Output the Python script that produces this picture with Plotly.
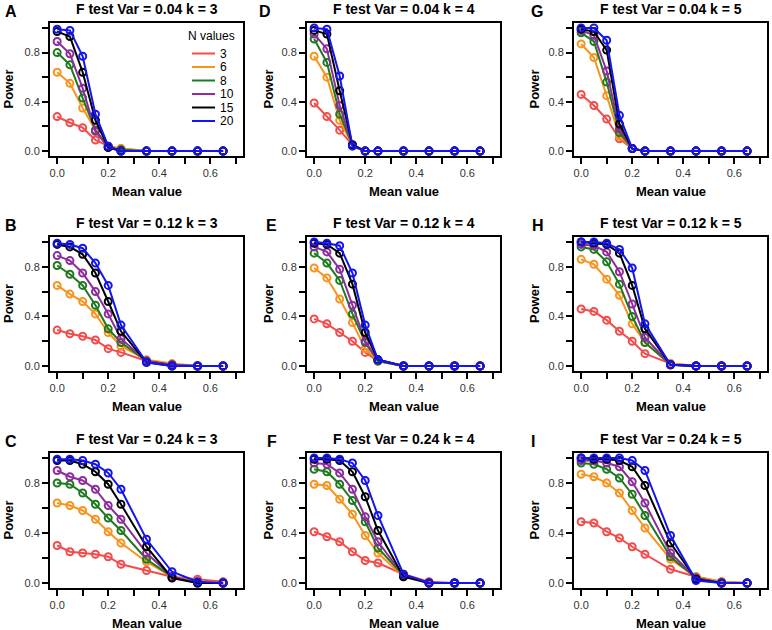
import plotly.graph_objects as go
from plotly.subplots import make_subplots

# x positions (mean value) shared by all panels
mean_values = [0.0, 0.05, 0.1, 0.15, 0.2, 0.25, 0.35, 0.45, 0.55, 0.65]
n_values = ["3", "6", "8", "10", "15", "20"]
n_colors = ["#F24C4C", "#F7941D", "#1F7A1F", "#8E2C9E", "#000000", "#1414F0"]

x_tickvals = [0.0, 0.1, 0.2, 0.3, 0.4, 0.5, 0.6, 0.7]
x_ticktext = ["0.0", "", "0.2", "", "0.4", "", "0.6", ""]
y_tickvals = [0.0, 0.2, 0.4, 0.6, 0.8, 1.0]
y_ticktext = ["0.0", "", "0.4", "", "0.8", ""]

# power per N (3, 6, 8, 10, 15, 20), one list per panel
var004_k3 = [
    [0.28, 0.23, 0.19, 0.09, 0.04, 0.02, 0.0, 0.0, 0.0, 0.0],
    [0.64, 0.55, 0.35, 0.17, 0.04, 0.02, 0.0, 0.0, 0.0, 0.0],
    [0.80, 0.70, 0.43, 0.17, 0.03, 0.01, 0.0, 0.0, 0.0, 0.0],
    [0.89, 0.79, 0.51, 0.16, 0.03, 0.0, 0.0, 0.0, 0.0, 0.0],
    [0.97, 0.93, 0.64, 0.25, 0.03, 0.0, 0.0, 0.0, 0.0, 0.0],
    [0.99, 0.98, 0.77, 0.30, 0.04, 0.0, 0.0, 0.0, 0.0, 0.0],
]
var004_k4 = [
    [0.39, 0.28, 0.17, 0.05, 0.0, 0.0, 0.0, 0.0, 0.0, 0.0],
    [0.77, 0.60, 0.25, 0.05, 0.0, 0.0, 0.0, 0.0, 0.0, 0.0],
    [0.91, 0.72, 0.30, 0.05, 0.0, 0.0, 0.0, 0.0, 0.0, 0.0],
    [0.95, 0.83, 0.37, 0.05, 0.0, 0.0, 0.0, 0.0, 0.0, 0.0],
    [0.98, 0.95, 0.49, 0.05, 0.0, 0.0, 0.0, 0.0, 0.0, 0.0],
    [1.0, 0.99, 0.61, 0.04, 0.0, 0.0, 0.0, 0.0, 0.0, 0.0],
]
var004_k5 = [
    [0.46, 0.37, 0.26, 0.10, 0.02, 0.0, 0.0, 0.0, 0.0, 0.0],
    [0.87, 0.76, 0.45, 0.12, 0.02, 0.0, 0.0, 0.0, 0.0, 0.0],
    [0.96, 0.89, 0.56, 0.15, 0.02, 0.0, 0.0, 0.0, 0.0, 0.0],
    [0.98, 0.94, 0.65, 0.18, 0.02, 0.0, 0.0, 0.0, 0.0, 0.0],
    [0.99, 0.97, 0.82, 0.22, 0.02, 0.0, 0.0, 0.0, 0.0, 0.0],
    [1.0, 1.0, 0.90, 0.29, 0.02, 0.0, 0.0, 0.0, 0.0, 0.0],
]
var012_k3 = [
    [0.29, 0.26, 0.24, 0.21, 0.14, 0.11, 0.04, 0.01, 0.0, 0.0],
    [0.65, 0.58, 0.52, 0.42, 0.27, 0.16, 0.05, 0.02, 0.0, 0.0],
    [0.81, 0.74, 0.65, 0.49, 0.30, 0.19, 0.04, 0.01, 0.0, 0.0],
    [0.89, 0.85, 0.75, 0.60, 0.42, 0.22, 0.04, 0.01, 0.0, 0.0],
    [0.98, 0.96, 0.90, 0.75, 0.52, 0.28, 0.03, 0.0, 0.0, 0.0],
    [0.99, 0.98, 0.95, 0.83, 0.65, 0.33, 0.03, 0.0, 0.0, 0.0],
]
var012_k4 = [
    [0.38, 0.34, 0.27, 0.20, 0.11, 0.04, 0.0, 0.0, 0.0, 0.0],
    [0.79, 0.71, 0.54, 0.35, 0.14, 0.04, 0.0, 0.0, 0.0, 0.0],
    [0.91, 0.83, 0.69, 0.42, 0.19, 0.04, 0.0, 0.0, 0.0, 0.0],
    [0.96, 0.92, 0.78, 0.49, 0.20, 0.05, 0.0, 0.0, 0.0, 0.0],
    [0.99, 0.98, 0.91, 0.66, 0.27, 0.05, 0.0, 0.0, 0.0, 0.0],
    [1.0, 0.99, 0.97, 0.75, 0.33, 0.05, 0.0, 0.0, 0.0, 0.0],
]
var012_k5 = [
    [0.46, 0.44, 0.37, 0.28, 0.20, 0.10, 0.02, 0.0, 0.0, 0.0],
    [0.86, 0.82, 0.70, 0.57, 0.34, 0.19, 0.02, 0.0, 0.0, 0.0],
    [0.96, 0.94, 0.84, 0.66, 0.40, 0.19, 0.01, 0.0, 0.0, 0.0],
    [0.98, 0.97, 0.92, 0.76, 0.50, 0.23, 0.01, 0.0, 0.0, 0.0],
    [1.0, 0.99, 0.98, 0.91, 0.65, 0.30, 0.01, 0.0, 0.0, 0.0],
    [1.0, 1.0, 0.99, 0.94, 0.79, 0.34, 0.01, 0.0, 0.0, 0.0],
]
var024_k3 = [
    [0.30, 0.25, 0.24, 0.23, 0.21, 0.15, 0.10, 0.05, 0.03, 0.01],
    [0.64, 0.62, 0.58, 0.51, 0.41, 0.32, 0.17, 0.05, 0.01, 0.0],
    [0.80, 0.79, 0.72, 0.63, 0.52, 0.42, 0.19, 0.05, 0.0, 0.0],
    [0.90, 0.85, 0.82, 0.75, 0.62, 0.51, 0.24, 0.05, 0.0, 0.0],
    [0.98, 0.98, 0.95, 0.89, 0.79, 0.63, 0.29, 0.04, 0.0, 0.0],
    [0.99, 0.99, 0.98, 0.95, 0.88, 0.75, 0.35, 0.09, 0.01, 0.0],
]
var024_k4 = [
    [0.41, 0.37, 0.33, 0.25, 0.18, 0.16, 0.07, 0.01, 0.0, 0.0],
    [0.79, 0.78, 0.67, 0.55, 0.38, 0.24, 0.05, 0.0, 0.0, 0.0],
    [0.91, 0.89, 0.79, 0.66, 0.49, 0.28, 0.06, 0.0, 0.0, 0.0],
    [0.96, 0.95, 0.88, 0.75, 0.53, 0.33, 0.06, 0.0, 0.0, 0.0],
    [0.99, 0.99, 0.98, 0.89, 0.69, 0.42, 0.05, 0.0, 0.0, 0.0],
    [1.0, 1.0, 0.99, 0.96, 0.82, 0.54, 0.07, 0.0, 0.0, 0.0],
]
var024_k5 = [
    [0.49, 0.48, 0.41, 0.36, 0.29, 0.23, 0.11, 0.05, 0.01, 0.0],
    [0.87, 0.85, 0.80, 0.72, 0.58, 0.44, 0.19, 0.05, 0.01, 0.0],
    [0.96, 0.95, 0.91, 0.84, 0.71, 0.54, 0.21, 0.04, 0.0, 0.0],
    [0.98, 0.98, 0.96, 0.93, 0.81, 0.64, 0.24, 0.04, 0.0, 0.0],
    [1.0, 0.99, 0.99, 0.98, 0.93, 0.78, 0.32, 0.03, 0.0, 0.0],
    [1.0, 1.0, 1.0, 1.0, 0.98, 0.90, 0.38, 0.02, 0.0, 0.0],
]

panels = [
    (1, 1, "A", "0.04", "3", var004_k3),
    (1, 2, "D", "0.04", "4", var004_k4),
    (1, 3, "G", "0.04", "5", var004_k5),
    (2, 1, "B", "0.12", "3", var012_k3),
    (2, 2, "E", "0.12", "4", var012_k4),
    (2, 3, "H", "0.12", "5", var012_k5),
    (3, 1, "C", "0.24", "3", var024_k3),
    (3, 2, "F", "0.24", "4", var024_k4),
    (3, 3, "I", "0.24", "5", var024_k5),
]

W, H = 772, 630
FONT = "Liberation Sans, Arial, sans-serif"

# plot box pixel extents
col_px = [(50, 243), (307, 500), (574, 767)]
row_px = [(23, 156), (237, 371), (453, 588)]
letter_x = [[3, 257, 529], [3, 264, 530], [3, 265, 529]]
ylabel_x = [8, 268, 534]


def px(x):
    return x / W


def py(y):
    return 1 - y / H


fig = make_subplots(rows=3, cols=3)

for row, col, letter, var, k, series in panels:
    for n, color, power in zip(n_values, n_colors, series):
        fig.add_trace(go.Scatter(
            x=mean_values, y=power, mode="lines+markers",
            line=dict(color=color, width=2),
            marker=dict(symbol="circle-open", size=7, color=color, line=dict(width=2)),
            showlegend=False, name=n,
        ), row=row, col=col)

    x0, x1 = col_px[col - 1]
    y0, y1 = row_px[row - 1]
    fig.update_xaxes(domain=[px(x0), px(x1)], range=[-0.028, 0.728],
                     tickvals=x_tickvals, ticktext=x_ticktext,
                     row=row, col=col)
    fig.update_yaxes(domain=[py(y1), py(y0)], range=[-0.04, 1.04],
                     tickvals=y_tickvals, ticktext=y_ticktext,
                     row=row, col=col)

    cx = (x0 + x1) / 2
    fig.add_annotation(text="<b>F test Var = %s k = %s</b>" % (var, k),
                       x=px(cx), y=py(y0 - 14), xref="paper", yref="paper",
                       showarrow=False, xanchor="center", yanchor="middle",
                       font=dict(size=14, family=FONT, color="black"))
    fig.add_annotation(text="<b>%s</b>" % letter,
                       x=px(letter_x[row - 1][col - 1]), y=py(y0 - 12), xref="paper", yref="paper",
                       showarrow=False, xanchor="left", yanchor="middle",
                       font=dict(size=16, family=FONT, color="black"))
    fig.add_annotation(text="<b>Mean value</b>",
                       x=px(cx), y=py(y1 + 35), xref="paper", yref="paper",
                       showarrow=False, xanchor="center", yanchor="middle",
                       font=dict(size=13, family=FONT, color="black"))
    fig.add_annotation(text="<b>Power</b>", textangle=-90,
                       x=px(ylabel_x[col - 1]), y=py((y0 + y1) / 2), xref="paper", yref="paper",
                       showarrow=False, xanchor="center", yanchor="middle",
                       font=dict(size=13, family=FONT, color="black"))

axis_style = dict(showline=True, mirror=True, linecolor="black", linewidth=2,
                  ticks="outside", ticklen=6, tickwidth=1.5, tickcolor="black",
                  showgrid=False, zeroline=False,
                  tickfont=dict(size=11, family=FONT, color="#333333"))
fig.update_xaxes(**axis_style)
fig.update_yaxes(**axis_style)

# legend drawn by hand inside panel A (R-style compact legend)
fig.add_annotation(text="N values", x=px(212), y=py(36), xref="paper", yref="paper",
                   showarrow=False, xanchor="center", yanchor="middle",
                   font=dict(size=12, family=FONT, color="black"))
for i, (n, color) in enumerate(zip(n_values, n_colors)):
    ly = 53.5 + i * 13.5
    fig.add_shape(type="line", xref="paper", yref="paper",
                  x0=px(192), x1=px(215), y0=py(ly), y1=py(ly),
                  line=dict(color=color, width=2))
    fig.add_annotation(text=n, x=px(218), y=py(ly), xref="paper", yref="paper",
                       showarrow=False, xanchor="left", yanchor="middle",
                       font=dict(size=12, family=FONT, color="black"))

fig.update_layout(
    width=W, height=H,
    margin=dict(l=0, r=0, t=0, b=0),
    paper_bgcolor="white", plot_bgcolor="white",
    font=dict(family=FONT),
)

# drop the default 8px page margin so the figure fills the window exactly
fig.write_html("out.html", config={"displayModeBar": False},
               post_script="document.body.style.margin='0px';")
